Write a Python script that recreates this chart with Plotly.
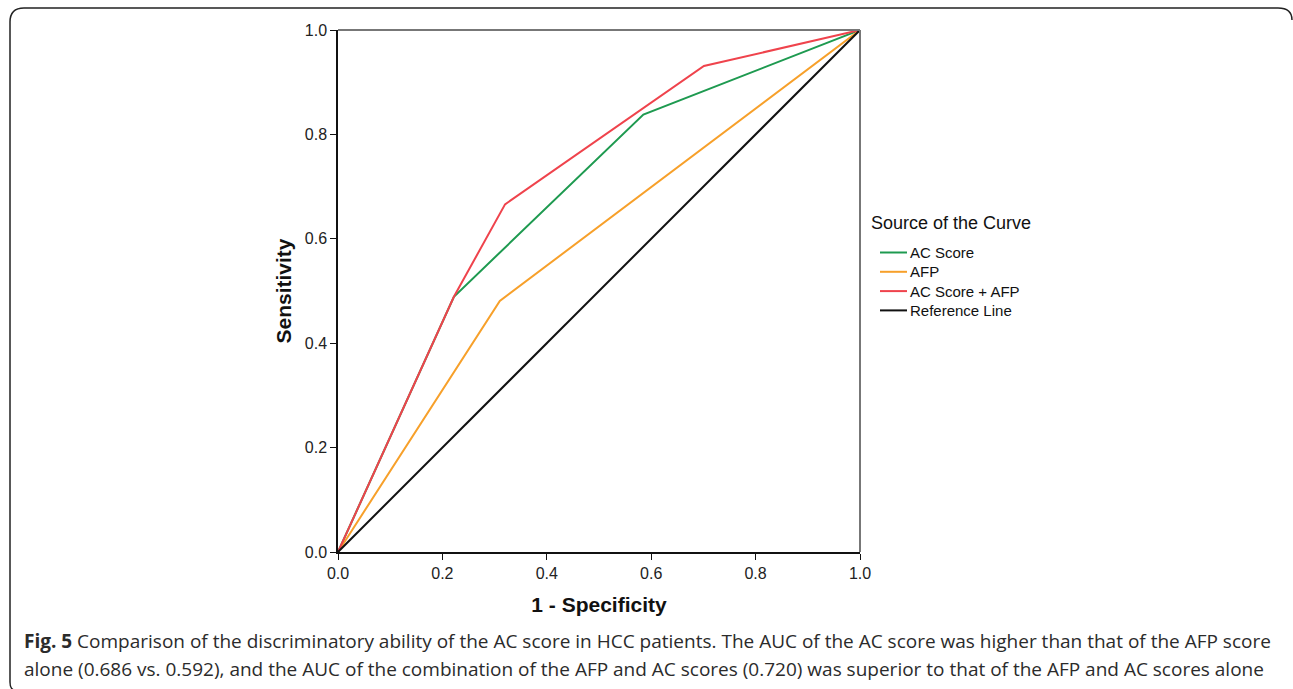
import plotly.graph_objects as go

# ROC curve data (1 - Specificity, Sensitivity)
ac_x = [0.0, 0.222, 0.585, 1.0]
ac_y = [0.0, 0.489, 0.838, 1.0]
afp_x = [0.0, 0.310, 1.0]
afp_y = [0.0, 0.481, 1.0]
comb_x = [0.0, 0.222, 0.320, 0.701, 1.0]
comb_y = [0.0, 0.489, 0.666, 0.931, 1.0]
ref_x = [0.0, 1.0]
ref_y = [0.0, 1.0]

names = ["AC Score", "AFP", "AC Score + AFP", "Reference Line"]
colors = ["#1e9a50", "#f7a02a", "#ef434c", "#111111"]
tick_vals = [0.0, 0.2, 0.4, 0.6, 0.8, 1.0]
tick_text = ["0.0", "0.2", "0.4", "0.6", "0.8", "1.0"]
legend_title = "Source of the Curve"

caption1 = ("<b>Fig. 5</b> Comparison of the discriminatory ability of the AC score in HCC patients. "
            "The AUC of the AC score was higher than that of the AFP score")
caption2 = ("alone (0.686 vs. 0.592), and the AUC of the combination of the AFP and AC scores (0.720) "
            "was superior to that of the AFP and AC scores alone")

W, H = 1293, 689
L, R, T, B = 338, 860, 30, 552
PW = R - L
PH = B - T


def px(x):
    return (x - L) / PW


def py(y):
    return (B - y) / PH


fig = go.Figure()
series = [(ac_x, ac_y), (afp_x, afp_y), (comb_x, comb_y), (ref_x, ref_y)]
for (xs, ys), n, c in zip(series, names, colors):
    fig.add_trace(go.Scatter(x=xs, y=ys, mode="lines", name=n, showlegend=False,
                             line=dict(color=c, width=2), cliponaxis=False))

axis_font = dict(family="Arial, Liberation Sans", size=16, color="#222")
title_font = dict(family="Arial, Liberation Sans", size=21, color="#111")
fig.update_xaxes(range=[0, 1], tickvals=tick_vals, ticktext=tick_text,
                 showgrid=False, zeroline=False, showline=True, linecolor="#111",
                 linewidth=1.5, ticks="outside", ticklen=6, tickcolor="#111",
                 tickfont=axis_font,
                 title=dict(text="<b>1 - Specificity</b>", font=title_font, standoff=16))
fig.update_yaxes(range=[0, 1], tickvals=tick_vals, ticktext=tick_text,
                 showgrid=False, zeroline=False, showline=True, linecolor="#111",
                 linewidth=1.5, ticks="outside", ticklen=6, tickcolor="#111",
                 tickfont=axis_font,
                 title=dict(text="<b>Sensitivity</b>", font=title_font, standoff=7))

shapes = [
    # gray top and right frame
    dict(type="line", xref="paper", yref="paper", x0=0, x1=1, y0=1, y1=1,
         line=dict(color="#777", width=2)),
    dict(type="line", xref="paper", yref="paper", x0=1, x1=1, y0=0, y1=1,
         line=dict(color="#777", width=2)),
    # outer rounded border
    dict(type="path", xref="paper", yref="paper",
         path=(f"M {px(10)},{py(682)} L {px(10)},{py(22)} "
               f"Q {px(10)},{py(8)} {px(24)},{py(8)} "
               f"L {px(1278)},{py(8)} Q {px(1292)},{py(8)} {px(1292)},{py(20)}"),
         line=dict(color="#222", width=1.5)),
    dict(type="path", xref="paper", yref="paper",
         path=f"M {px(10)},{py(682)} Q {px(10)},{py(689)} {px(14)},{py(690)}",
         line=dict(color="#222", width=1.5)),
]

annotations = []
# manual legend
leg_font = dict(family="Arial, Liberation Sans", size=15, color="#111")
annotations.append(dict(text=legend_title, xref="paper", yref="paper",
                        x=px(869), y=py(223), xanchor="left", yanchor="middle",
                        showarrow=False,
                        font=dict(family="Arial, Liberation Sans", size=18, color="#111")))
for i, (n, c) in enumerate(zip(names, colors)):
    yy = 252.5 + i * 19.3
    shapes.append(dict(type="line", xref="paper", yref="paper",
                       x0=px(880), x1=px(907), y0=py(yy), y1=py(yy),
                       line=dict(color=c, width=2)))
    annotations.append(dict(text=n, xref="paper", yref="paper", x=px(908), y=py(yy),
                            xanchor="left", yanchor="middle", showarrow=False,
                            font=leg_font))

cap_font = dict(family="Open Sans", size=19, color="#2b2b2b")
annotations += [
    dict(text=caption1, xref="paper", yref="paper", x=px(22), y=py(641),
         xanchor="left", yanchor="middle", showarrow=False, font=cap_font),
    dict(text=caption2, xref="paper", yref="paper", x=px(22), y=py(669),
         xanchor="left", yanchor="middle", showarrow=False, font=cap_font),
]

fig.update_layout(
    width=W, height=H,
    margin=dict(l=L, r=W - R, t=T, b=H - B, autoexpand=False),
    paper_bgcolor="white", plot_bgcolor="white",
    showlegend=False,
    shapes=shapes,
    annotations=annotations,
)

fig.write_html("out.html", config={"displayModeBar": False},
               post_script="document.body.style.margin='0px';")
